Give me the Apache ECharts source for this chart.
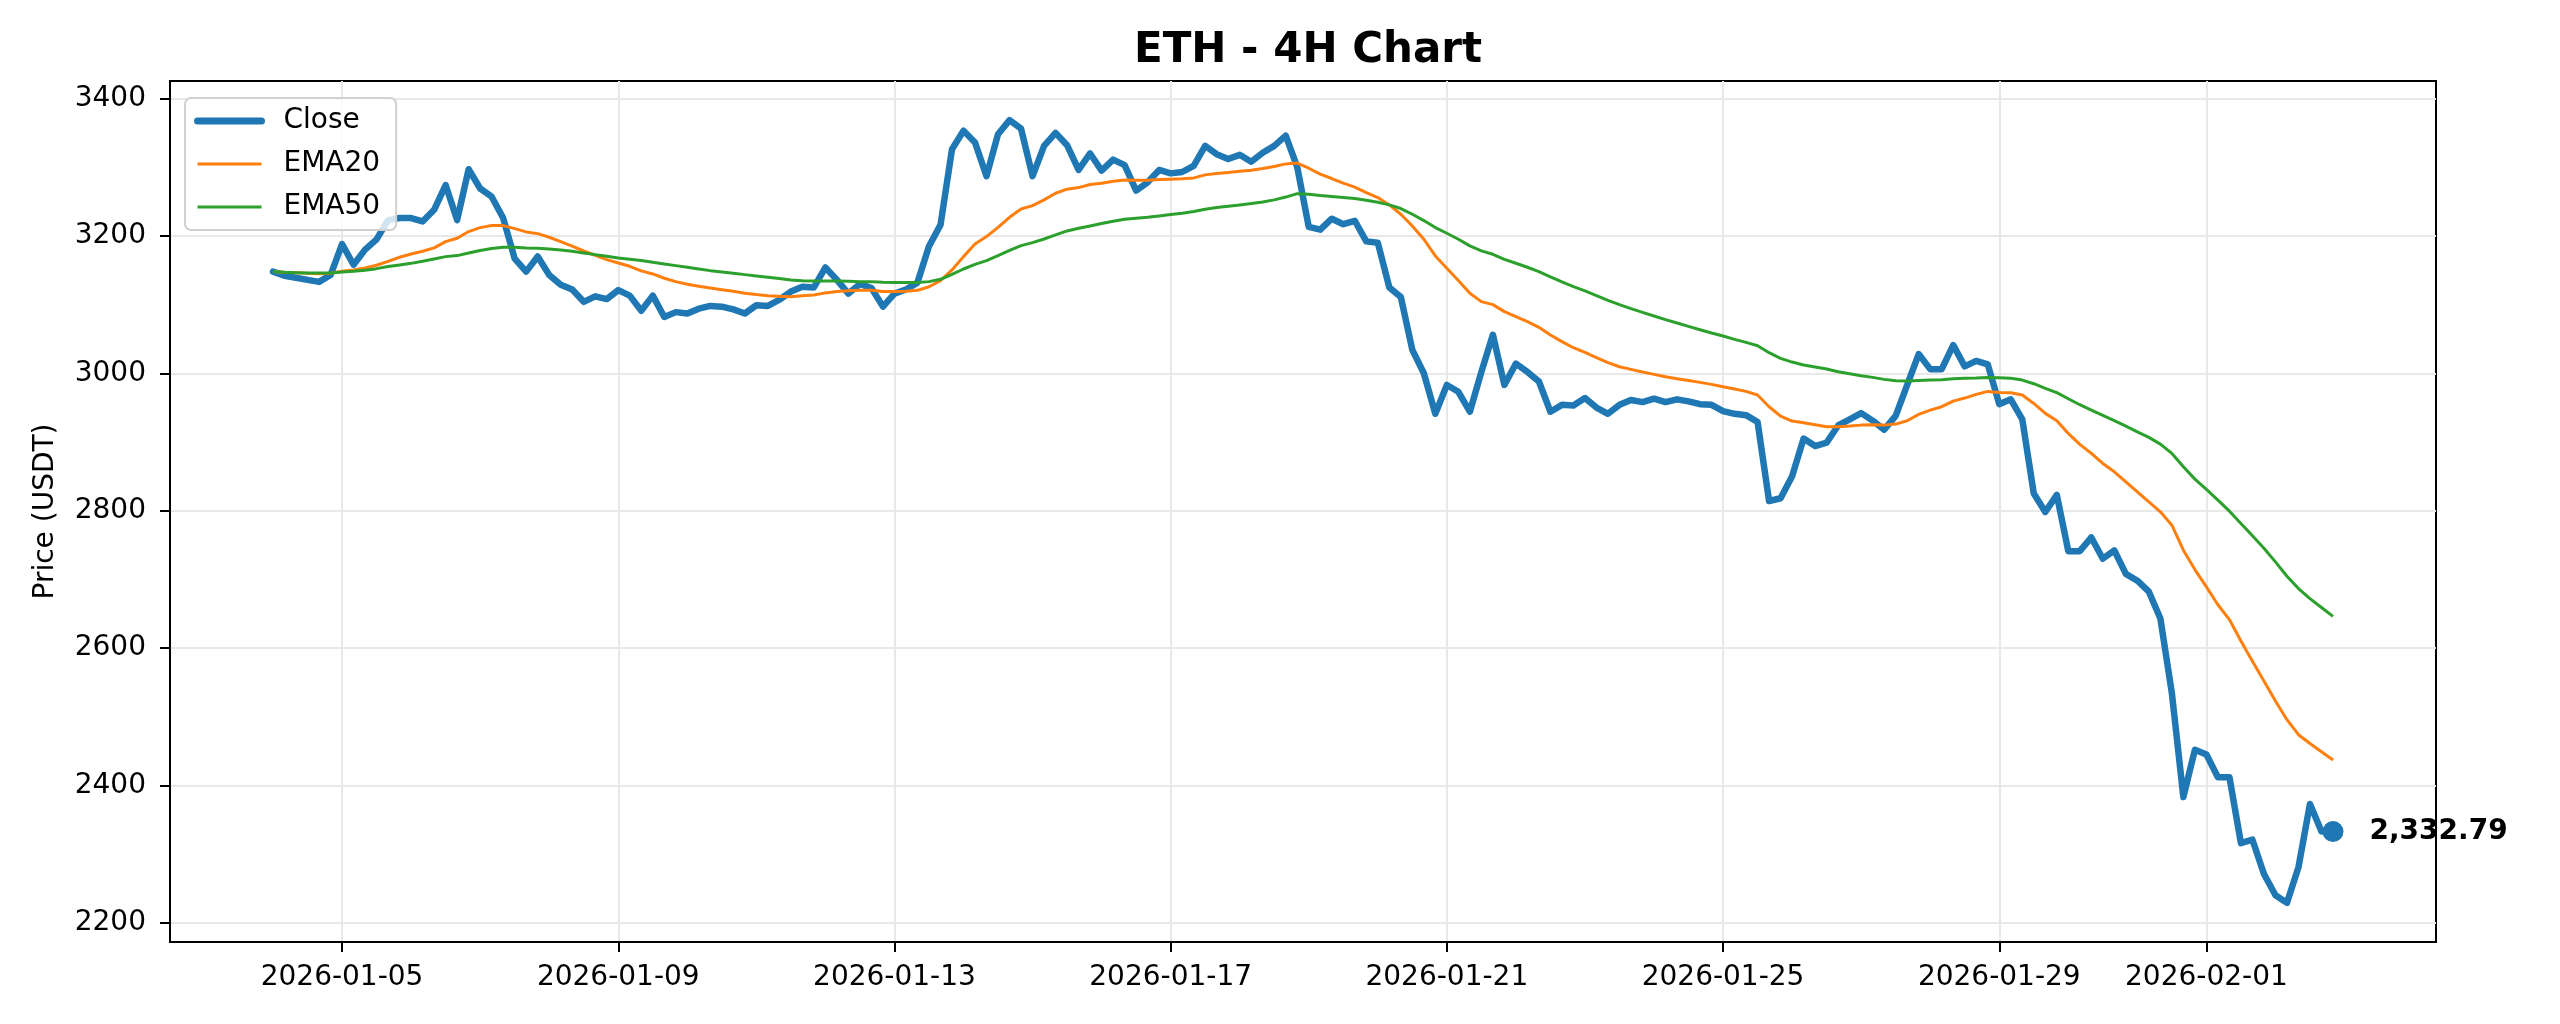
<!DOCTYPE html>
<html>
<head>
<meta charset="utf-8">
<script src="https://cdn.jsdelivr.net/npm/echarts@6/dist/echarts.min.js"></script>
<style>
  html, body { margin: 0; padding: 0; background: #ffffff; }
  #chart { width: 2560px; height: 1024px; }
</style>
</head>
<body>
<div id="chart"></div>
<script>
// ---- data ----
const TITLE = 'ETH - 4H Chart';
const Y_NAME = 'Price (USDT)';
const START_TIME = '2026-01-04T00:00:00Z';
const STEP_HOURS = 4;

const CLOSE = [
  3148, 3142, 3139, 3136, 3133, 3143, 3188, 3158, 3180, 3195,
  3223, 3226, 3226, 3221, 3238, 3274, 3223, 3297, 3269, 3257,
  3226, 3167, 3148, 3170, 3143, 3129, 3122, 3104, 3112, 3108,
  3121, 3113, 3091, 3113, 3082, 3089, 3087, 3094, 3098, 3097,
  3093, 3087, 3099, 3098, 3107, 3119, 3126, 3125, 3154, 3136,
  3116, 3130, 3124, 3097, 3116, 3122, 3132, 3185, 3216, 3326,
  3353, 3336, 3287, 3348, 3368.5, 3356, 3287, 3331, 3350, 3332,
  3296, 3320, 3295, 3311, 3303, 3266, 3278, 3296, 3291, 3293,
  3302, 3331, 3319, 3312, 3318, 3308, 3321, 3331, 3346, 3300,
  3213, 3209, 3225, 3217, 3222, 3192, 3190, 3125, 3111, 3034,
  3000, 2941, 2983, 2973, 2944, 3002, 3056, 2983, 3014, 3002,
  2988, 2944, 2954, 2953, 2964, 2950, 2941, 2954, 2961, 2958,
  2963, 2958, 2962, 2959, 2955, 2954, 2945, 2941, 2939, 2929,
  2814, 2818, 2850, 2905, 2894, 2899, 2924, 2933, 2942, 2931,
  2918, 2938, 2983, 3028, 3006, 3006, 3041, 3010, 3018, 3013,
  2955, 2962, 2933, 2825, 2798, 2823, 2741, 2741, 2761, 2730,
  2742, 2708, 2698, 2682, 2643, 2534, 2383, 2452, 2445, 2412,
  2412, 2316, 2321, 2271, 2240, 2229, 2281, 2373, 2333, 2332.79
];

const EMA20 = [
  3148, 3147, 3146.5, 3145.5, 3145, 3145.5, 3148.5, 3150.4, 3153.3, 3157.2,
  3163, 3168.9, 3173.7, 3177.6, 3182.5, 3191.7, 3196.5, 3206.3, 3212, 3215,
  3215, 3210.6, 3205.8, 3203.3, 3198, 3191.7, 3185, 3178, 3171.8, 3165.5,
  3160.6, 3155.7, 3149, 3144.6, 3138.3, 3133.4, 3129.5, 3126.6, 3124.2, 3121.7,
  3119.3, 3116.4, 3114.5, 3113, 3112, 3111.5, 3113, 3114, 3117, 3119,
  3120, 3120.7, 3120.7, 3119, 3119, 3119.3, 3120.7, 3126, 3134.8, 3150.4,
  3169.8, 3188.2, 3199, 3212.5, 3227, 3239.2, 3244, 3252.4, 3262.1, 3268,
  3270.3, 3274.7, 3276.6, 3279.6, 3281.5, 3281, 3281, 3282, 3282.5, 3283,
  3284.4, 3288.8, 3290.7, 3292.2, 3294.1, 3295.6, 3298, 3301, 3304.8, 3306,
  3298.5, 3289.8, 3283.5, 3276.7, 3270.9, 3263.1, 3255.8, 3245.1, 3231.5, 3214.5,
  3195.1, 3170.8, 3152.8, 3134.9, 3116.4, 3104.3, 3099.9, 3089.7, 3082.4, 3075.1,
  3066.9, 3055.7, 3046, 3037.2, 3030.4, 3022.7, 3015.4, 3009.5, 3005.6, 3001.8,
  2998.4, 2995, 2992.1, 2989.6, 2986.7, 2983.8, 2980.4, 2977, 2973.6, 2968.3,
  2951.3, 2937.7, 2930.4, 2928, 2925, 2922.1, 2922.1, 2923.1, 2924.5, 2925,
  2924.5, 2926, 2930.9, 2940.1, 2946.4, 2951.3, 2959.5, 2963.9, 2969.2, 2973.6,
  2972.1, 2971.6, 2968.3, 2956.1, 2941.6, 2930.9, 2912.4, 2896.4, 2883.3, 2868.7,
  2856.6, 2842, 2827.4, 2812.8, 2798.3, 2778.8, 2742.4, 2714.2, 2689, 2663,
  2641.4, 2610.3, 2580.7, 2552, 2522.9, 2495.7, 2473.8, 2461, 2449, 2437
];

const EMA50 = [
  3148, 3147, 3146.5, 3146, 3146, 3146, 3147.5, 3148.5, 3150, 3152.3,
  3155.3, 3157.7, 3160, 3163, 3166.4, 3169.8, 3171.3, 3175, 3178.6, 3181.5,
  3183.4, 3183.4, 3182.5, 3182, 3181, 3179.5, 3177.6, 3175, 3172.7, 3170.3,
  3167.9, 3166, 3164, 3161.6, 3159, 3156.7, 3154.3, 3151.8, 3149.4, 3147.5,
  3145.5, 3143.6, 3141.7, 3139.7, 3137.8, 3135.8, 3134.8, 3134.3, 3134.3, 3134.3,
  3133.9, 3133.4, 3133.4, 3132.4, 3132, 3132, 3132, 3133.4, 3136.8, 3144,
  3151.8, 3158.6, 3164, 3171.3, 3179, 3185.8, 3190.2, 3195.5, 3201.4, 3207.2,
  3211, 3214.5, 3217.9, 3221.3, 3224.2, 3225.6, 3227, 3229, 3231, 3232.9,
  3235.4, 3238.8, 3241.2, 3243.1, 3245, 3247, 3249.4, 3252.4, 3256.5, 3261.5,
  3260.6, 3258.7, 3257.3, 3255.8, 3254.3, 3251.9, 3249, 3245.1, 3239.8, 3231.5,
  3222.3, 3212.1, 3203.8, 3195.1, 3185.4, 3178.1, 3173.2, 3165.9, 3160.1, 3154.3,
  3148, 3140.2, 3132.9, 3126.1, 3119.8, 3113, 3106.2, 3099.9, 3094.1, 3088.7,
  3083.4, 3078, 3073.2, 3068.3, 3063.4, 3058.6, 3054.2, 3049.4, 3045, 3040.1,
  3029.9, 3021.7, 3016.3, 3012, 3009, 3006.1, 3002.3, 2999.3, 2996.4, 2994,
  2991.1, 2989.1, 2988.7, 2989.6, 2990.1, 2990.6, 2992.1, 2992.6, 2993, 2994,
  2993.5, 2992.6, 2990.1, 2984.8, 2978, 2971.7, 2962.9, 2954.2, 2946.4, 2938.6,
  2930.9, 2923.1, 2914.8, 2906.6, 2896.9, 2883.3, 2863.8, 2845.9, 2830.8, 2815.3,
  2799.2, 2781.3, 2763.3, 2745.3, 2725.4, 2704.5, 2686.6, 2672, 2659, 2646
];

const X_TICK_LABELS = ['2026-01-05', '2026-01-09', '2026-01-13', '2026-01-17',
                       '2026-01-21', '2026-01-25', '2026-01-29', '2026-02-01'];
const Y_TICK_LABELS = [2200, 2400, 2600, 2800, 3000, 3200, 3400];

// ---- build ----
const t0 = Date.parse(START_TIME);
const TIMES = CLOSE.map((_, i) => t0 + i * STEP_HOURS * 3600 * 1000);
const pairs = arr => arr.map((v, i) => [TIMES[i], v]);

const xSpan = TIMES[TIMES.length - 1] - TIMES[0];
const xMin = TIMES[0] - 0.05 * xSpan;
const xMax = TIMES[TIMES.length - 1] + 0.05 * xSpan;
const allVals = CLOSE.concat(EMA20, EMA50);
const vMin = Math.min(...allVals), vMax = Math.max(...allVals);
const yMin = vMin - 0.05 * (vMax - vMin);
const yMax = vMax + 0.05 * (vMax - vMin);

const xTickValues = X_TICK_LABELS.map(s => Date.parse(s + 'T00:00:00Z'));
const lastIdx = CLOSE.length - 1;

const FONT = 'DejaVu Sans';
const C_BLUE = '#1f77b4', C_ORANGE = '#ff7f0e', C_GREEN = '#2ca02c';

const chart = echarts.init(document.getElementById('chart'), null, { renderer: 'canvas' });
chart.setOption({
  animation: false,
  backgroundColor: '#ffffff',
  textStyle: { fontFamily: FONT },
  title: {
    text: TITLE,
    left: 1303,
    textAlign: 'center',
    top: 25,
    textStyle: { fontFamily: FONT, fontSize: 42, fontWeight: 'bold', color: '#000' }
  },
  grid: {
    left: 170, right: 124, top: 81, bottom: 82,
    containLabel: false,
    outerBoundsMode: 'none',
    show: true,
    borderColor: '#000',
    borderWidth: 2,
    backgroundColor: 'transparent'
  },
  legend: {
    orient: 'vertical',
    left: 185,
    top: 98,
    padding: [8, 16, 8, 9],
    itemWidth: 64,
    itemHeight: 14,
    itemGap: 13,
    backgroundColor: 'rgba(255,255,255,0.8)',
    borderColor: '#d0d0d0',
    borderWidth: 2,
    borderRadius: 6,
    itemStyle: { opacity: 0 },
    textStyle: { fontFamily: FONT, fontSize: 28, lineHeight: 30, color: '#000', padding: [0, 0, 0, 17] },
    data: [
      { name: 'Close', lineStyle: { width: 7 } },
      { name: 'EMA20', lineStyle: { width: 3.2 } },
      { name: 'EMA50', lineStyle: { width: 3.2 } }
    ]
  },
  xAxis: {
    type: 'value',
    min: xMin,
    max: xMax,
    axisLine: { show: true, lineStyle: { color: '#000', width: 2 } },
    axisTick: { show: true, inside: false, length: 10, lineStyle: { color: '#000', width: 2 }, customValues: xTickValues },
    axisLabel: {
      customValues: xTickValues,
      margin: 22,
      fontFamily: FONT, fontSize: 28, color: '#000',
      formatter: v => new Date(v).toISOString().slice(0, 10)
    },
    splitLine: { show: true, lineStyle: { color: '#e8e8e8', width: 2 } }
  },
  yAxis: {
    type: 'value',
    min: yMin,
    max: yMax,
    name: Y_NAME,
    nameLocation: 'middle',
    nameRotate: 90,
    nameGap: 110,
    nameTextStyle: { fontFamily: FONT, fontSize: 28, color: '#000' },
    axisLine: { show: true, lineStyle: { color: '#000', width: 2 } },
    axisTick: { show: true, inside: false, length: 10, lineStyle: { color: '#000', width: 2 }, customValues: Y_TICK_LABELS },
    axisLabel: {
      customValues: Y_TICK_LABELS,
      margin: 24,
      fontFamily: FONT, fontSize: 28, color: '#000',
      formatter: v => String(Math.round(v))
    },
    splitLine: { show: true, lineStyle: { color: '#e8e8e8', width: 2 } }
  },
  series: [
    {
      name: 'Close', type: 'line', data: pairs(CLOSE),
      showSymbol: false, symbol: 'none',
      lineStyle: { color: C_BLUE, width: 6.5, join: 'round', cap: 'round' },
      itemStyle: { color: C_BLUE },
      z: 2,
      markPoint: {
        symbol: 'circle',
        symbolSize: 21,
        itemStyle: { color: C_BLUE },
        label: {
          show: true,
          position: 'right',
          distance: 26,
          fontFamily: FONT, fontSize: 28, fontWeight: 'bold', color: '#000',
          formatter: p => Number(p.value).toLocaleString('en-US', { minimumFractionDigits: 2, maximumFractionDigits: 2 })
        },
        data: [{ coord: [TIMES[lastIdx], CLOSE[lastIdx]], value: CLOSE[lastIdx] }]
      }
    },
    {
      name: 'EMA20', type: 'line', data: pairs(EMA20),
      showSymbol: false, symbol: 'none',
      lineStyle: { color: C_ORANGE, width: 3, join: 'round' },
      itemStyle: { color: C_ORANGE },
      z: 3
    },
    {
      name: 'EMA50', type: 'line', data: pairs(EMA50),
      showSymbol: false, symbol: 'none',
      lineStyle: { color: C_GREEN, width: 3, join: 'round' },
      itemStyle: { color: C_GREEN },
      z: 3
    }
  ]
});
</script>
</body>
</html>
